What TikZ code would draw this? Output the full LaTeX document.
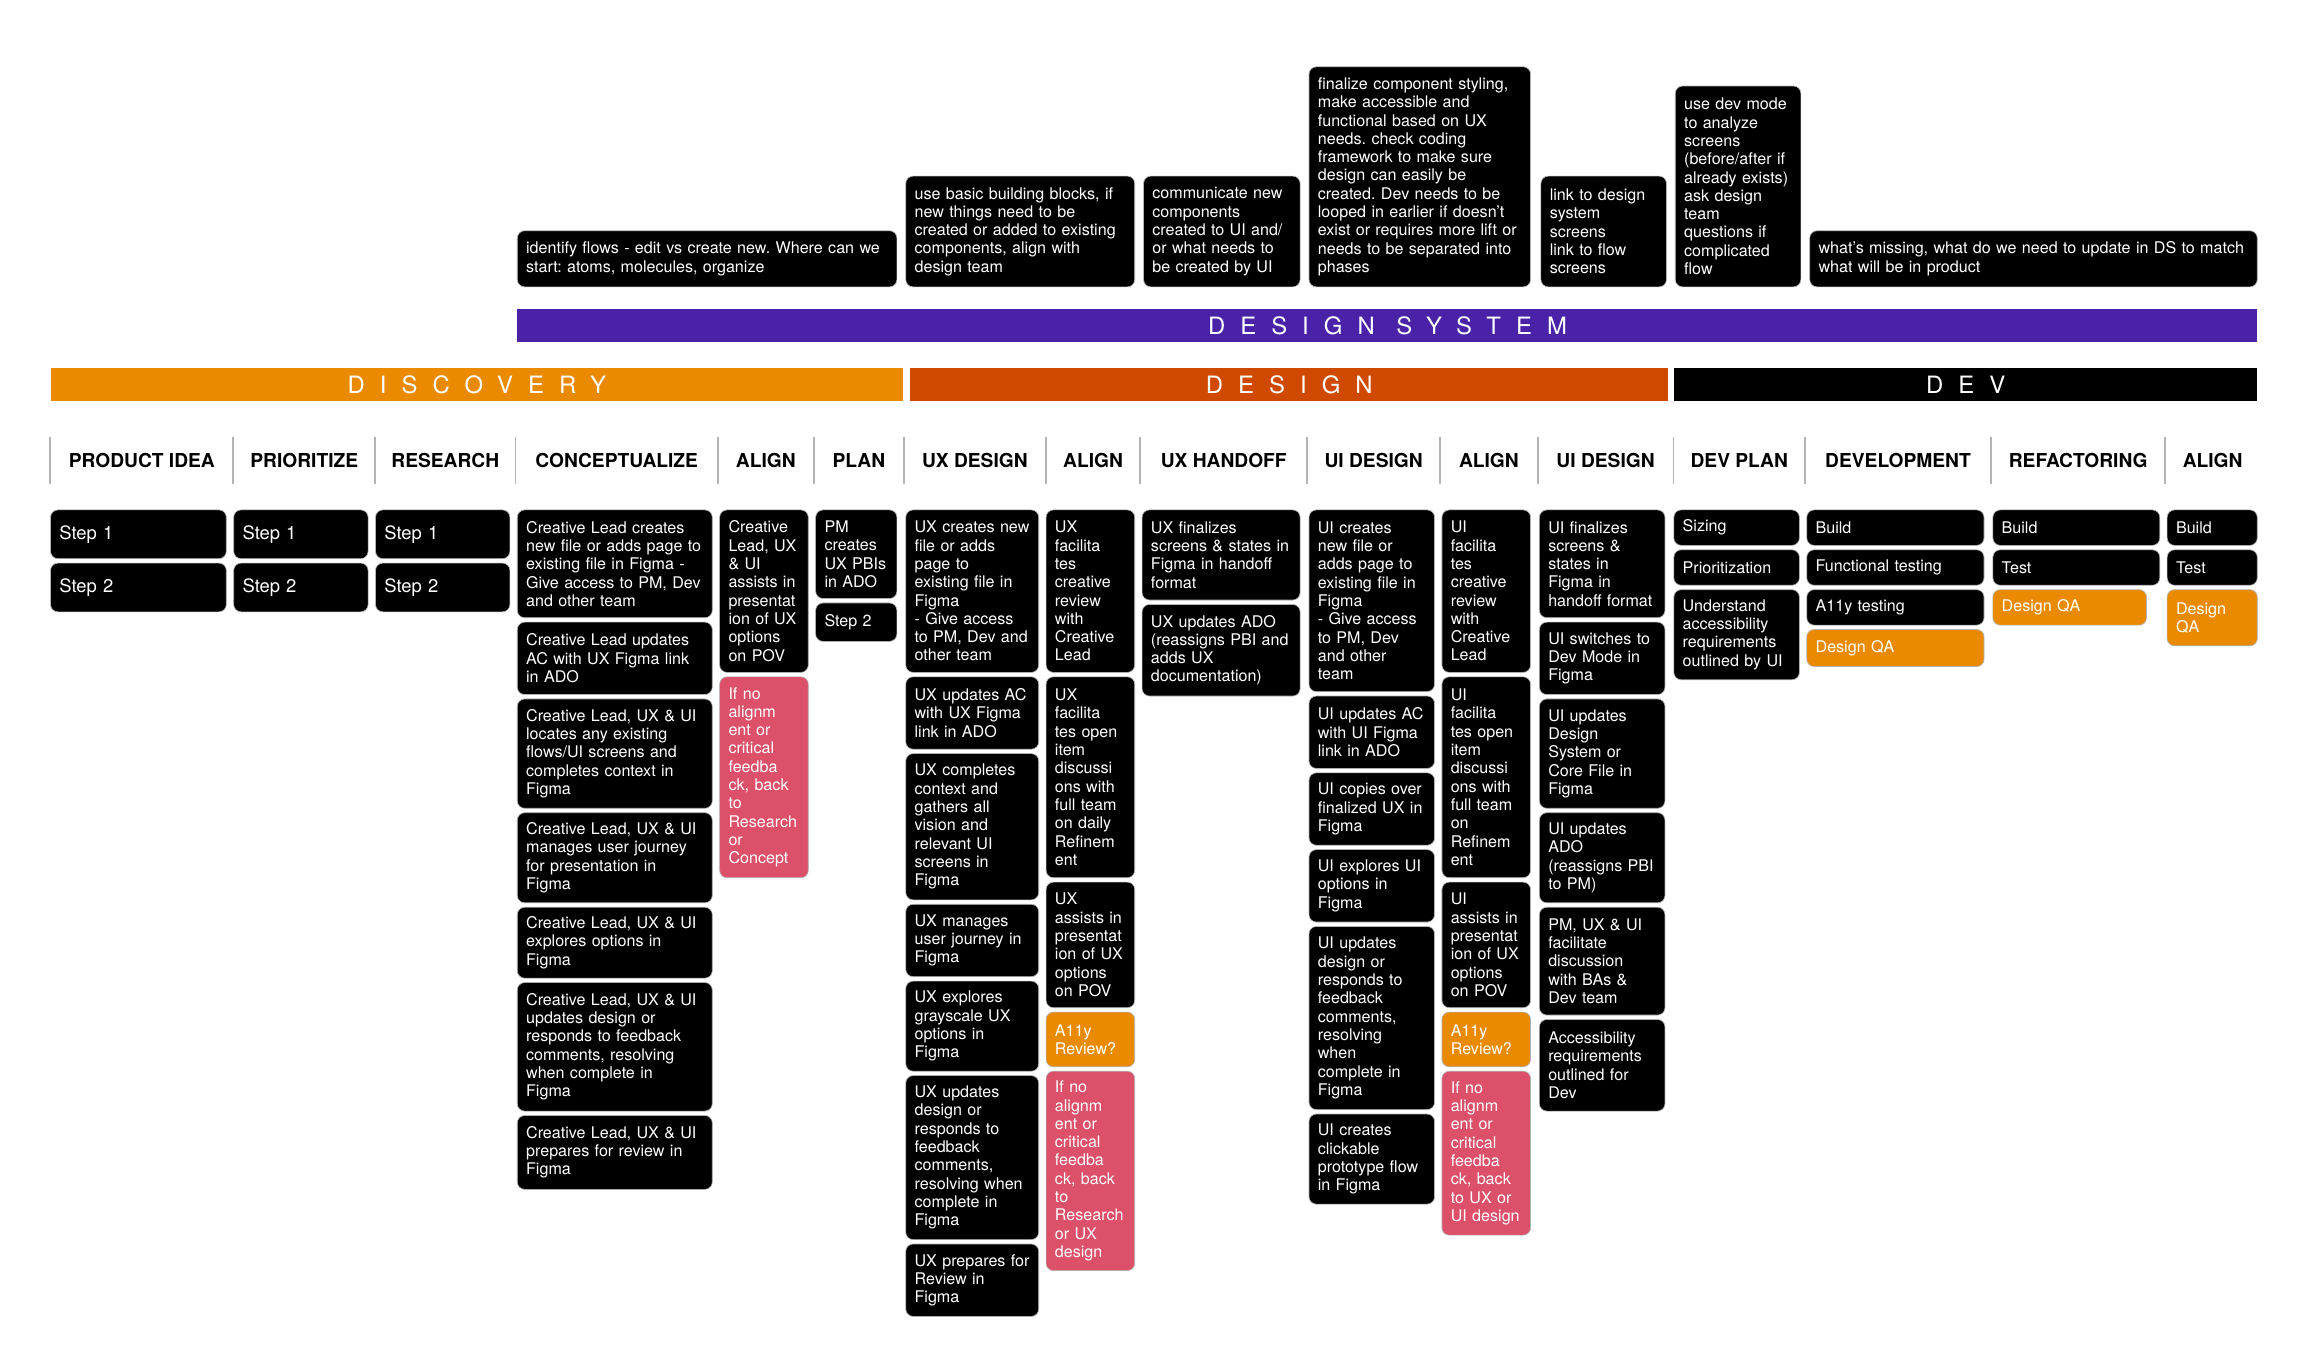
\documentclass[tikz,border=0pt]{standalone}
\usepackage{fontspec}
\setmainfont{TeX Gyre Heros}
\newfontfamily\barfamily[LetterSpace=63]{TeX Gyre Heros}
\frenchspacing

\definecolor{dsviolet}{RGB}{74,34,168}
\definecolor{discorange}{RGB}{233,138,0}
\definecolor{designrust}{RGB}{207,74,0}
\definecolor{alertrose}{RGB}{220,80,105}
\definecolor{sepgray}{RGB}{180,180,180}

\newcommand{\pxu}{0.02cm}
\newcommand{\cardfont}{\fontsize{6.2}{7.05}\selectfont}
\newcommand{\stepfont}{\fontsize{7.1}{8}\selectfont}
\newcommand{\headfont}{\fontsize{7.4}{8}\selectfont\bfseries}
\newcommand{\barfont}{\barfamily\fontsize{9.2}{10}\selectfont}

\begin{document}
\begin{tikzpicture}[
    x=0.02cm, y=-0.02cm,
    every node/.style={font=\cardfont},
    card/.style={draw=black!30, line width=0.25pt, fill=black, text=white, rounded corners=0.1cm,
                 anchor=north west, align=left, inner xsep=0.12cm, inner ysep=0pt},
    wh/.style 2 args={minimum width={#1*\pxu}, text width={(#1-12)*\pxu}, minimum height={#2*\pxu}},
    alertcard/.style={card, fill=alertrose},
    qacard/.style={card, fill=discorange},
    stepcard/.style={card, font=\stepfont},
    phasebar/.style={anchor=north west, minimum height=0.44cm, inner sep=0pt, text=white, font=\barfont},
    colhead/.style={font=\headfont, text=black},
    divider/.style={draw=sepgray, line width=0.7pt}
]
\fill[white] (0,0) rectangle (1568,924);
\useasboundingbox (0,0) rectangle (1568,924);
% Notas del sistema de diseño
\node[card, wh={257}{38}] (n1) at (350,156) {identify flows - edit vs create new. Where can we\\start: atoms, molecules, organize};
\node[card, wh={155}{75}] (n2) at (613,119) {use basic building blocks, if\\new things need to be\\created or added to existing\\components, align with\\design team};
\node[card, wh={106}{75}] (n3) at (774,119) {communicate new\\components\\created to UI and/\\or what needs to\\be created by UI};
\node[card, wh={150}{149}] (n4) at (886,45) {finalize component styling,\\make accessible and\\functional based on UX\\needs. check coding\\framework to make sure\\design can easily be\\created. Dev needs to be\\looped in earlier if doesn’t\\exist or requires more lift or\\needs to be separated into\\phases};
\node[card, wh={85}{75}] (n5) at (1043,119) {link to design\\system\\screens\\link to flow\\screens};
\node[card, wh={85}{136}] (n6) at (1134,58) {use dev mode\\to analyze\\screens\\(before/after if\\already exists)\\ask design\\team\\questions if\\complicated\\flow};
\node[card, wh={303}{38}] (n7) at (1225,156) {what’s missing, what do we need to update in DS to match\\what will be in product};
% Barras de fase
\node[phasebar, fill=dsviolet, minimum width={1178*\pxu}] (ds) at (350,209) {DESIGN SYSTEM};
\node[phasebar, fill=discorange, minimum width={577*\pxu}] (disc) at (34,249) {DISCOVERY};
\node[phasebar, fill=designrust, minimum width={513*\pxu}] (dsgn) at (616,249) {DESIGN};
\node[phasebar, fill=black, minimum width={395*\pxu}] (dev) at (1133,249) {DEV};
% Encabezados
\node[colhead] (h1) at (96,312) {PRODUCT IDEA};
\node[colhead] (h2) at (206,312) {PRIORITIZE};
\node[colhead] (h3) at (301.5,312) {RESEARCH};
\node[colhead] (h4) at (417.5,312) {CONCEPTUALIZE};
\node[colhead] (h5) at (518.5,312) {ALIGN};
\node[colhead] (h6) at (581.5,312) {PLAN};
\node[colhead] (h7) at (660,312) {UX DESIGN};
\node[colhead] (h8) at (740,312) {ALIGN};
\node[colhead] (h9) at (828.5,312) {UX HANDOFF};
\node[colhead] (h10) at (930,312) {UI DESIGN};
\node[colhead] (h11) at (1008,312) {ALIGN};
\node[colhead] (h12) at (1087,312) {UI DESIGN};
\node[colhead] (h13) at (1177.5,312) {DEV PLAN};
\node[colhead] (h14) at (1285,312) {DEVELOPMENT};
\node[colhead] (h15) at (1407,312) {REFACTORING};
\node[colhead] (h16) at (1498,312) {ALIGN};
\foreach \x in {34,158,254,349,486,551,612,708,772,885,975,1041,1133,1222,1348,1466}
  \draw[divider] (\x,296) -- (\x,328);
% Product idea, prioritize, research
\node[stepcard, wh={119}{33}] (pi1) at (34,345) {Step 1};
\node[stepcard, wh={119}{33}] (pi2) at (34,381) {Step 2};
\node[stepcard, wh={91}{33}] (pr1) at (158,345) {Step 1};
\node[stepcard, wh={91}{33}] (pr2) at (158,381) {Step 2};
\node[stepcard, wh={91}{33}] (re1) at (254,345) {Step 1};
\node[stepcard, wh={91}{33}] (re2) at (254,381) {Step 2};
% Conceptualize
\node[card, wh={132}{73}] (cp1) at (350,345) {Creative Lead creates\\new file or adds page to\\existing file in Figma -\\Give access to PM, Dev\\and other team};
\node[card, wh={132}{49}] (cp2) at (350,421) {Creative Lead updates\\AC with UX Figma link\\in ADO};
\node[card, wh={132}{74}] (cp3) at (350,473) {Creative Lead, UX \& UI\\locates any existing\\flows/UI screens and\\completes context in\\Figma};
\node[card, wh={132}{61}] (cp4) at (350,550) {Creative Lead, UX \& UI\\manages user journey\\for presentation in\\Figma};
\node[card, wh={132}{48}] (cp5) at (350,614) {Creative Lead, UX \& UI\\explores options in\\Figma};
\node[card, wh={132}{87}] (cp6) at (350,665) {Creative Lead, UX \& UI\\updates design or\\responds to feedback\\comments, resolving\\when complete in\\Figma};
\node[card, wh={132}{50}] (cp7) at (350,755) {Creative Lead, UX \& UI\\prepares for review in\\Figma};
% Align
\node[card, wh={60}{110}] (aa1) at (487,345) {Creative\\Lead, UX\\\& UI\\assists in\\presentat\\ion of UX\\options\\on POV};
\node[alertcard, wh={60}{136}] (aa2) at (487,458) {If no\\alignm\\ent or\\critical\\feedba\\ck, back\\to\\Research\\or\\Concept};
% Plan
\node[card, wh={55}{60}] (pl1) at (552,345) {PM\\creates\\UX PBIs\\in ADO};
\node[card, wh={55}{26}] (pl2) at (552,408) {Step 2};
% UX design
\node[card, wh={90}{110}] (ux1) at (613,345) {UX creates new\\file or adds\\page to\\existing file in\\Figma\\- Give access\\to PM, Dev and\\other team};
\node[card, wh={90}{49}] (ux2) at (613,458) {UX updates AC\\with UX Figma\\link in ADO};
\node[card, wh={90}{99}] (ux3) at (613,510) {UX completes\\context and\\gathers all\\vision and\\relevant UI\\screens in\\Figma};
\node[card, wh={90}{49}] (ux4) at (613,612) {UX manages\\user journey in\\Figma};
\node[card, wh={90}{61}] (ux5) at (613,664) {UX explores\\grayscale UX\\options in\\Figma};
\node[card, wh={90}{111}] (ux6) at (613,728) {UX updates\\design or\\responds to\\feedback\\comments,\\resolving when\\complete in\\Figma};
\node[card, wh={90}{49}] (ux7) at (613,842) {UX prepares for\\Review in\\Figma};
% Align
\node[card, wh={60}{110}] (ab1) at (708,345) {UX\\facilita\\tes\\creative\\review\\with\\Creative\\Lead};
\node[card, wh={60}{136}] (ab2) at (708,458) {UX\\facilita\\tes open\\item\\discussi\\ons with\\full team\\on daily\\Refinem\\ent};
\node[card, wh={60}{85}] (ab3) at (708,597) {UX\\assists in\\presentat\\ion of UX\\options\\on POV};
\node[qacard, wh={60}{37}] (ab4) at (708,685) {A11y\\Review?};
\node[alertcard, wh={60}{135}] (ab5) at (708,725) {If no\\alignm\\ent or\\critical\\feedba\\ck, back\\to\\Research\\or UX\\design};
% UX handoff
\node[card, wh={107}{61}] (ho1) at (773,345) {UX finalizes\\screens \& states in\\Figma in handoff\\format};
\node[card, wh={107}{62}] (ho2) at (773,409) {UX updates ADO\\(reassigns PBI and\\adds UX\\documentation)};
% UI design
\node[card, wh={85}{123}] (ui1) at (886,345) {UI creates\\new file or\\adds page to\\existing file in\\Figma\\- Give access\\to PM, Dev\\and other\\team};
\node[card, wh={85}{49}] (ui2) at (886,471) {UI updates AC\\with UI Figma\\link in ADO};
\node[card, wh={85}{49}] (ui3) at (886,523) {UI copies over\\finalized UX in\\Figma};
\node[card, wh={85}{49}] (ui4) at (886,575) {UI explores UI\\options in\\Figma};
\node[card, wh={85}{124}] (ui5) at (886,627) {UI updates\\design or\\responds to\\feedback\\comments,\\resolving\\when\\complete in\\Figma};
\node[card, wh={85}{61}] (ui6) at (886,754) {UI creates\\clickable\\prototype flow\\in Figma};
% Align
\node[card, wh={60}{110}] (ac1) at (976,345) {UI\\facilita\\tes\\creative\\review\\with\\Creative\\Lead};
\node[card, wh={60}{136}] (ac2) at (976,458) {UI\\facilita\\tes open\\item\\discussi\\ons with\\full team\\on\\Refinem\\ent};
\node[card, wh={60}{85}] (ac3) at (976,597) {UI\\assists in\\presentat\\ion of UX\\options\\on POV};
\node[qacard, wh={60}{37}] (ac4) at (976,685) {A11y\\Review?};
\node[alertcard, wh={60}{111}] (ac5) at (976,725) {If no\\alignm\\ent or\\critical\\feedba\\ck, back\\to UX or\\UI design};
% UI design
\node[card, wh={85}{73}] (uf1) at (1042,345) {UI finalizes\\screens \&\\states in\\Figma in\\handoff format};
\node[card, wh={85}{49}] (uf2) at (1042,421) {UI switches to\\Dev Mode in\\Figma};
\node[card, wh={85}{74}] (uf3) at (1042,473) {UI updates\\Design\\System or\\Core File in\\Figma};
\node[card, wh={85}{61}] (uf4) at (1042,550) {UI updates\\ADO\\(reassigns PBI\\to PM)};
\node[card, wh={85}{73}] (uf5) at (1042,614) {PM, UX \& UI\\facilitate\\discussion\\with BAs \&\\Dev team};
\node[card, wh={85}{62}] (uf6) at (1042,690) {Accessibility\\requirements\\outlined for\\Dev};
% Dev plan
\node[card, wh={85}{24}] (dp1) at (1133,345) {Sizing};
\node[card, wh={85}{24}] (dp2) at (1133,372) {Prioritization};
\node[card, wh={85}{61}] (dp3) at (1133,399) {Understand\\accessibility\\requirements\\outlined by UI};
% Development
\node[card, wh={120}{24}] (dv1) at (1223,345) {Build};
\node[card, wh={120}{24}] (dv2) at (1223,372) {Functional testing};
\node[card, wh={120}{24}] (dv3) at (1223,399) {A11y testing};
\node[qacard, wh={120}{25}] (dv4) at (1223,426) {Design QA};
% Refactoring
\node[card, wh={113}{24}] (rf1) at (1349,345) {Build};
\node[card, wh={113}{24}] (rf2) at (1349,372) {Test};
\node[qacard, wh={104}{24}] (rf3) at (1349,399) {Design QA};
% Align
\node[card, wh={61}{24}] (ad1) at (1467,345) {Build};
\node[card, wh={61}{24}] (ad2) at (1467,372) {Test};
\node[qacard, wh={61}{38}] (ad3) at (1467,399) {Design\\QA};
\end{tikzpicture}
\end{document}
